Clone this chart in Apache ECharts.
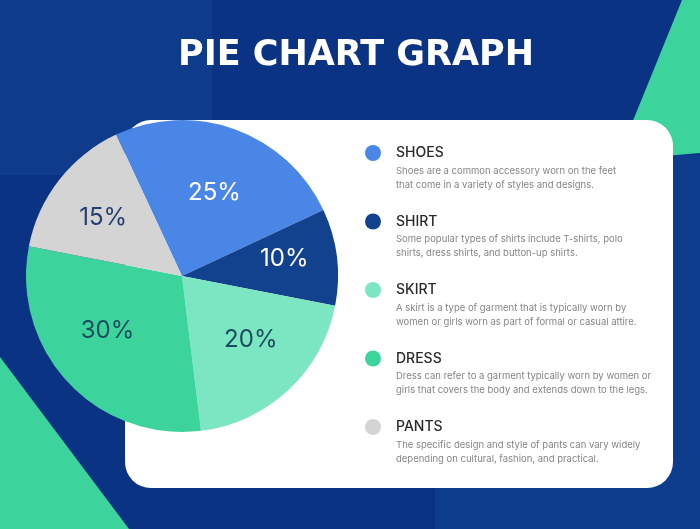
<!DOCTYPE html>
<html>
<head>
<meta charset="utf-8">
<script src="https://cdn.jsdelivr.net/npm/echarts@6/dist/echarts.min.js"></script>
<style>
  html, body { margin: 0; padding: 0; background: #0B3384; }
  #chart { width: 700px; height: 529px; }
</style>
</head>
<body>
<div id="chart"></div>
<script>
// ---- data ----
const titleText = 'PIE CHART GRAPH';
const categories = ['SHOES', 'SHIRT', 'SKIRT', 'DRESS', 'PANTS'];
const values = [25, 10, 20, 30, 15];
const descriptions = [
  ['Shoes are a common accessory worn on the feet', 'that come in a variety of styles and designs.'],
  ['Some popular types of shirts include T-shirts, polo', 'shirts, dress shirts, and button-up shirts.'],
  ['A skirt is a type of garment that is typically worn by', 'women or girls worn as part of formal or casual attire.'],
  ['Dress can refer to a garment typically worn by women or', 'girls that covers the body and extends down to the legs.'],
  ['The specific design and style of pants can vary widely', 'depending on cultural, fashion, and practical.']
];

// ---- styles ----
const sliceColors = ['#4A86E6', '#12418E', '#7CE6C2', '#3DD39C', '#D4D4D4'];
const labelColors = ['#FFFFFF', '#FFFFFF', '#1C4B5E', '#1C4B5E', '#263F70'];
const labelNudge = [[0, 6], [8, -6], [4, -6], [-5, -10], [-4, 0]];
const FONT = 'Inter, "Noto Sans", sans-serif';

const pieData = categories.map((c, i) => ({
  name: c,
  value: values[i],
  itemStyle: { color: sliceColors[i] }
}));

const descByName = {};
categories.forEach((c, i) => { descByName[c] = descriptions[i]; });

const chart = echarts.init(document.getElementById('chart'), null, { renderer: 'canvas' });

const option = {
  backgroundColor: '#0B3384',
  animation: false,
  color: sliceColors,
  graphic: [
    { type: 'rect', z: -10, shape: { x: 0, y: 0, width: 212, height: 175 }, style: { fill: '#0E3C8B' }, silent: true },
    { type: 'rect', z: -10, shape: { x: 435, y: 155, width: 265, height: 374 }, style: { fill: '#0E3C8C' }, silent: true },
    { type: 'polygon', z: -9, shape: { points: [[682, 0], [700, 0], [700, 153], [617, 160]] }, style: { fill: '#3DD39C' }, silent: true },
    { type: 'polygon', z: -9, shape: { points: [[0, 357], [0, 529], [129, 529]] }, style: { fill: '#3DD39C' }, silent: true },
    { type: 'rect', z: -8, shape: { x: 125, y: 120, width: 548, height: 368, r: 26 }, style: { fill: '#FFFFFF' }, silent: true },
    {
      type: 'text', z: 5,
      style: {
        x: 356, y: 56, text: titleText, fill: '#FFFFFF',
        font: 'bold 35px "DejaVu Sans", sans-serif',
        textAlign: 'center', textVerticalAlign: 'middle'
      }
    }
  ],
  legend: {
    orient: 'vertical',
    left: 365,
    top: 123,
    padding: 0,
    itemGap: 1.5,
    itemWidth: 16,
    itemHeight: 16,
    icon: 'circle',
    selectedMode: false,
    data: categories,
    formatter: function (name) {
      const d = descByName[name];
      return '{sp| }\n{t|' + name + '}\n{d|' + d[0] + '}\n{d|' + d[1] + '}';
    },
    textStyle: {
      fontFamily: FONT,
      rich: {
        sp: { lineHeight: 28, fontSize: 10, padding: [0, 0, 0, 10] },
        t: { fontFamily: FONT, fontSize: 14, fontWeight: 500, color: '#2A2A2A', lineHeight: 22, padding: [0, 0, 0, 10] },
        d: { fontFamily: FONT, fontSize: 9.5, color: '#858585', lineHeight: 14, padding: [0, 0, 0, 10] }
      }
    }
  },
  series: [
    {
      type: 'pie',
      center: [182, 276],
      radius: [0, 156],
      startAngle: 115,
      clockwise: true,
      avoidLabelOverlap: false,
      label: { show: false },
      labelLine: { show: false },
      emphasis: { disabled: true },
      data: pieData
    },
    {
      type: 'pie',
      center: [182, 276],
      radius: [28, 156],
      startAngle: 115,
      clockwise: true,
      silent: true,
      legendHoverLink: false,
      avoidLabelOverlap: false,
      itemStyle: { color: 'rgba(0,0,0,0)' },
      label: {
        show: true,
        position: 'inside',
        fontFamily: FONT,
        fontSize: 24,
        fontWeight: 400,
        formatter: function (p) { return p.value + '%'; }
      },
      labelLine: { show: false },
      emphasis: { disabled: true },
      data: pieData.map((d, i) => ({
        name: d.name,
        value: d.value,
        itemStyle: { color: 'rgba(0,0,0,0)' },
        label: { color: labelColors[i], offset: labelNudge[i] }
      }))
    }
  ]
};

chart.setOption(option);
</script>
</body>
</html>
